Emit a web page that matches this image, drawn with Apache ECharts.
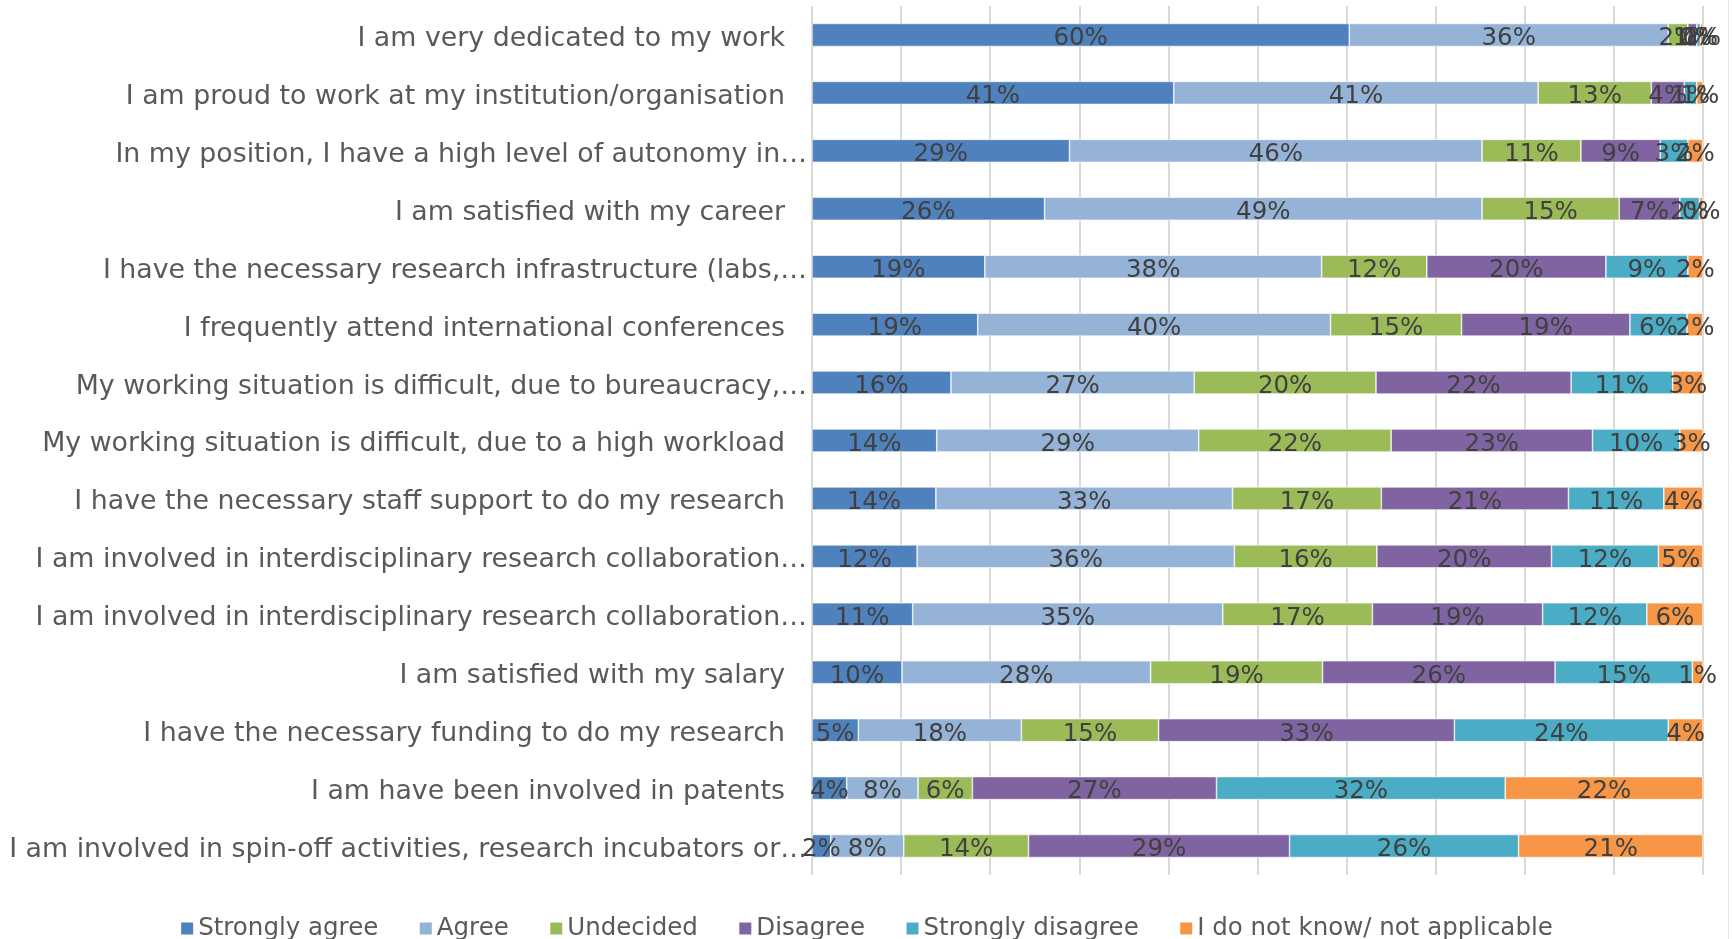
<!DOCTYPE html>
<html>
<head>
<meta charset="utf-8">
<script src="https://cdn.jsdelivr.net/npm/echarts@6/dist/echarts.min.js"></script>
<style>
html,body{margin:0;padding:0;background:#fff;}
#chart{width:1732px;height:939px;}
</style>
</head>
<body>
<div id="chart"></div>
<script>
const categories = [
  "I am very dedicated to my work",
  "I am proud to work at my institution/organisation",
  "In my position, I have a high level of autonomy in…",
  "I am satisfied with my career",
  "I have the necessary research infrastructure (labs,…",
  "I frequently attend international conferences",
  "My working situation is difficult, due to bureaucracy,…",
  "My working situation is difficult, due to a high workload",
  "I have the necessary staff support to do my research",
  "I am involved in interdisciplinary research collaboration…",
  "I am involved in interdisciplinary research collaboration…",
  "I am satisfied with my salary",
  "I have the necessary funding to do my research",
  "I am have been involved in patents",
  "I am involved in spin-off activities, research incubators or…"
];
const seriesNames = ["Strongly agree","Agree","Undecided","Disagree","Strongly disagree","I do not know/ not applicable"];
const stronglyAgree    = [60.3, 40.6, 28.9, 26.1, 19.4, 18.6, 15.6, 14.0, 13.9, 11.8, 11.3, 10.1,  5.2,  3.9,  2.1];
const agree            = [35.8, 40.9, 46.3, 49.1, 37.8, 39.6, 27.3, 29.4, 33.3, 35.6, 34.8, 27.9, 18.3,  8.0,  8.2];
const undecided        = [ 2.2, 12.7, 11.1, 15.4, 11.8, 14.7, 20.4, 21.6, 16.7, 16.0, 16.8, 19.3, 15.4,  6.1, 14.0];
const disagree         = [ 1.0,  3.7,  8.9,  6.8, 20.1, 18.9, 21.9, 22.6, 21.0, 19.6, 19.1, 26.1, 33.2, 27.4, 29.3];
const stronglyDisagree = [ 0.4,  1.4,  3.1,  2.2,  9.2,  6.4, 11.4,  9.8, 10.7, 12.0, 11.7, 15.4, 24.0, 32.4, 25.7];
const dontKnow         = [ 0.3,  0.7,  1.7,  0.4,  1.7,  1.8,  3.4,  2.6,  4.4,  5.0,  6.3,  1.2,  3.9, 22.2, 20.7];
const colors = ["#4F81BD","#95B3D7","#9BBB59","#8064A2","#4BACC6","#F79646"];
const allData = [stronglyAgree, agree, undecided, disagree, stronglyDisagree, dontKnow];

const FONT = "DejaVu Sans";
const chart = echarts.init(document.getElementById('chart'));
chart.setOption({
  animation: false,
  color: colors,
  textStyle: { fontFamily: FONT },
  grid: { left: 812, right: 29, top: 6, bottom: 64, containLabel: false },
  legend: {
    top: 911,
    left: 'center',
    itemWidth: 14,
    itemHeight: 14,
    itemGap: 39.5,
    icon: 'rect',
    textStyle: { fontFamily: FONT, fontSize: 24.5, color: '#595959', padding: [0,0,0,-1] },
    data: seriesNames
  },
  xAxis: {
    type: 'value',
    min: 0, max: 100, interval: 10,
    axisLabel: { show: false },
    axisLine: { show: false },
    axisTick: { show: false },
    splitLine: { show: true, lineStyle: { color: '#d9d9d9', width: 2 } }
  },
  yAxis: {
    type: 'category',
    inverse: true,
    data: categories,
    axisTick: { show: false },
    axisLine: { show: false },
    splitLine: { show: false },
    axisLabel: {
      margin: 5,
      formatter: v => v.endsWith('…') ? '{t|' + v + '}' : '{n|' + v + '}',
      rich: {
        t: { fontFamily: FONT, fontSize: 26.8, color: '#595959', padding: [8, 0, 0, 0] },
        n: { fontFamily: FONT, fontSize: 26.8, color: '#595959', padding: [8, 22, 0, 0] }
      }
    }
  },
  graphic: [{
    type: 'line', shape: { x1: 1728.5, y1: 0, x2: 1728.5, y2: 939 },
    style: { stroke: '#e6e6e6', lineWidth: 1 }, silent: true
  }],
  series: seriesNames.map((name, i) => ({
    name: name,
    type: 'bar',
    stack: 'total',
    barWidth: 23,
    data: allData[i],
    itemStyle: { color: colors[i], borderColor: '#ffffff', borderWidth: 0.6 },
    label: {
      show: true,
      position: 'inside',
      offset: [0, 4],
      fontFamily: FONT,
      fontSize: 24.5,
      color: '#404040',
      formatter: p => Math.round(p.value) + '%'
    }
  }))
});
</script>
</body>
</html>
